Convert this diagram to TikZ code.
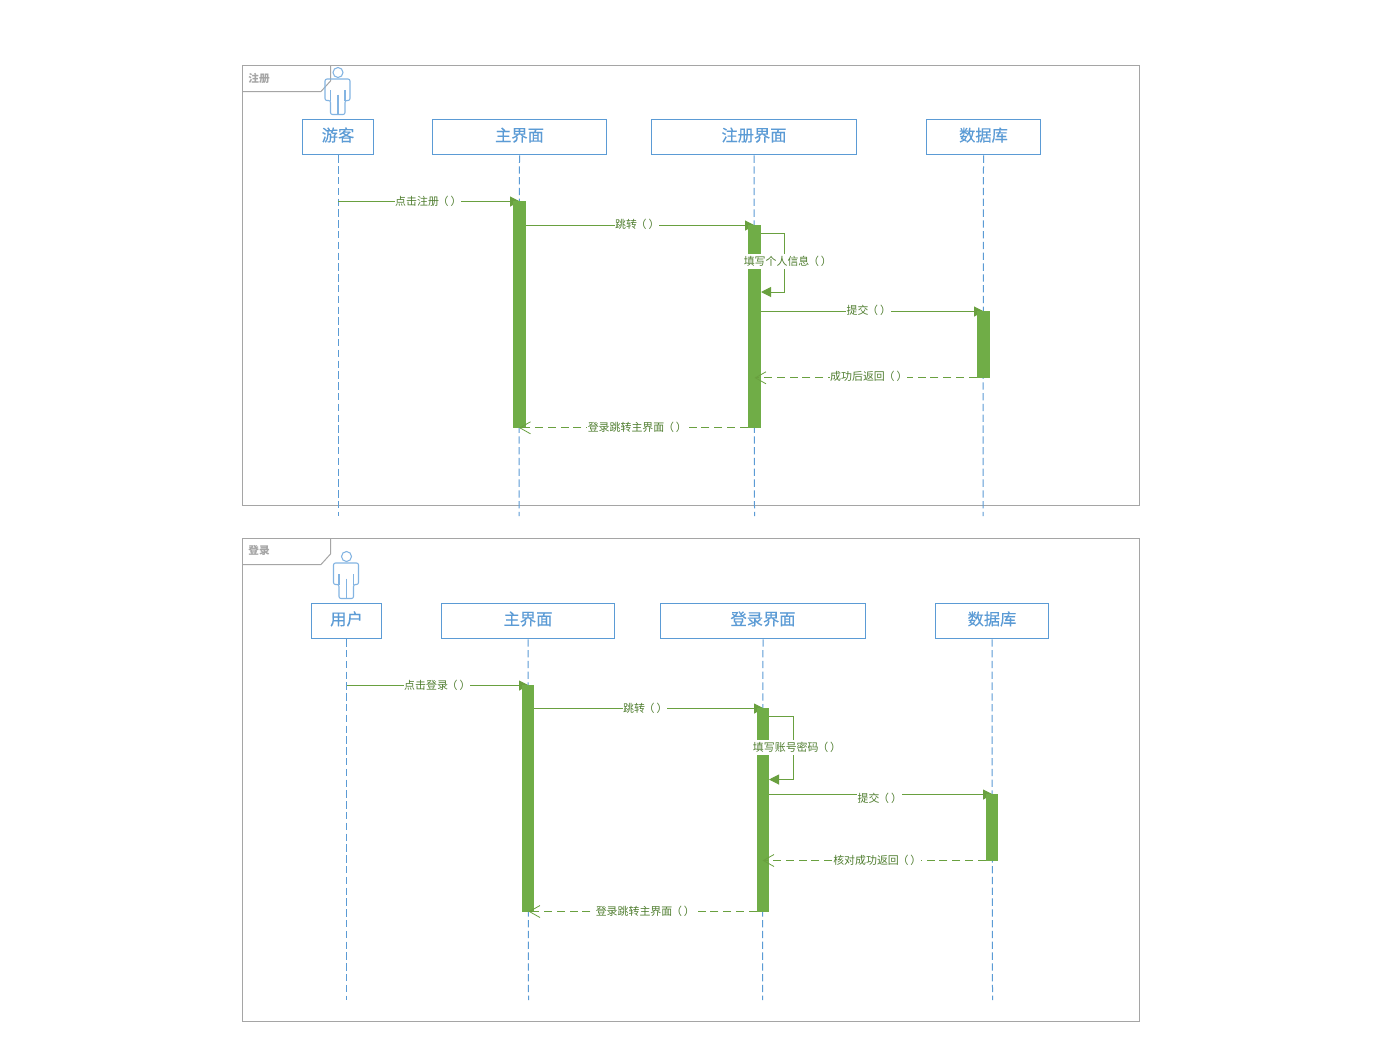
\documentclass[tikz,border=0pt]{standalone}
\usepackage{fontspec}
\setmainfont{Noto Sans CJK SC}
\newfontfamily\headfont[FakeBold=0.25]{Noto Sans CJK SC}
\usetikzlibrary{arrows.meta}
\definecolor{ublue}{HTML}{5B9BD5}
\definecolor{ulight}{HTML}{83B4E2}
\definecolor{ugreen}{HTML}{70AD47}
\definecolor{uline}{HTML}{69A03F}
\definecolor{utext}{HTML}{507E30}
\definecolor{ugray}{HTML}{A5A5A5}
\newcommand\hdtext[1]{\raisebox{0pt}[0.75em][0.25em]{#1}}
\newcommand\callmark{\kern-1pt（\kern1.5pt）\kern-0.5pt}
\tikzset{
  x=0.75pt,y=-0.75pt,
  frameline/.style={draw=ugray,line width=0.75pt},
  frametext/.style={text=ugray,font=\bfseries\fontsize{8}{8}\selectfont,inner sep=0pt},
  headbox/.style={draw=ublue,fill=white,line width=0.75pt,text=ublue,font=\headfont\fontsize{12.2}{12.2}\selectfont,inner sep=0pt,minimum height=35.5*0.75pt,minimum width=#1*0.75pt},
  lifeline/.style={draw=ublue,line width=0.75pt,dash pattern=on 5.5pt off 2.6pt},
  barbox/.style={fill=ugreen,draw=none,inner sep=0pt,minimum width=13*0.75pt},
  msgline/.style={draw=uline,line width=0.75pt,-{Triangle[length=7.5pt,width=7.5pt]}},
  retline/.style={draw=uline,line width=0.75pt,dash pattern=on 6pt off 3.6pt,-{Straight Barb[length=8pt,width=9pt,line width=0.6pt]}},
  msgtext/.style={text=utext,fill=white,font=\fontsize{8.2}{8.2}\selectfont,inner xsep=0.3pt,inner ysep=2pt},
  actorfig/.pic={
    \draw[ulight,line width=0.8pt] (0,0) circle[radius=5];
    \draw[ulight,line width=0.8pt,rounded corners=1.5pt] (-7.5,42) -- (-7.5,28) -- (-13,28) -- (-13,6.5) -- (12,6.5) -- (12,28) -- (7,28) -- (7,42) -- cycle;
    \draw[ulight,line width=0.8pt] (0,22) -- (0,42) (-7.5,28) -- (-7.5,17) (7,28) -- (7,17);
  }
}
\begin{document}
\begin{tikzpicture}
\path[use as bounding box,fill=white] (0,0) rectangle (1383,1053);

%% ---- register frame
\node[frameline,inner sep=0pt,minimum width=897*0.75pt,minimum height=439.7*0.75pt] (frameA) at (691,285.55) {};
\coordinate (tabAa) at (330.5,65.7);
\coordinate (tabAb) at (330.5,81);
\coordinate (tabAc) at (321,91.5);
\coordinate (tabAd) at (242.5,91.5);
\draw[frameline] (tabAa) -- (tabAb) -- (tabAc) -- (tabAd);
\node[frametext] (labelA) at (259,78) {注册};
\pic at (338,72.5) {actorfig};

\node[headbox=71]  (hA1) at (338,137.2) {\hdtext{游客}};
\node[headbox=174] (hA2) at (519.5,137.2) {\hdtext{主界面}};
\node[headbox=205] (hA3) at (754,137.2) {\hdtext{注册界面}};
\node[headbox=114] (hA4) at (983.5,137.2) {\hdtext{数据库}};
\coordinate (eA1) at (338,516);
\coordinate (eA2) at (519,516);
\coordinate (eA3) at (754.5,516);
\coordinate (eA4) at (983,516);
\draw[lifeline] (hA1.south) -- (eA1);
\draw[lifeline] (hA2.south) -- (eA2);
\draw[lifeline] (hA3.south) -- (eA3);
\draw[lifeline] (hA4.south) -- (eA4);

\coordinate (mA1s) at (338,201.5);
\coordinate (mA1e) at (520,201.5);
\coordinate (mA2s) at (526,225.5);
\coordinate (mA2e) at (755,225.5);
\coordinate (mA3s) at (754.5,311.5);
\coordinate (mA3e) at (984,311.5);
\draw[msgline] (mA1s) -- (mA1e);
\draw[msgline] (mA2s) -- (mA2e);
\draw[msgline] (mA3s) -- (mA3e);

\node[barbox,minimum height=227*0.75pt] (bA1) at (519.5,314.5) {};
\node[barbox,minimum height=203*0.75pt] (bA2) at (754.5,326.5) {};
\node[barbox,minimum height=67*0.75pt]  (bA3) at (983.5,344.5) {};

\coordinate (sA1) at (761,233);
\coordinate (sA2) at (784.5,233);
\coordinate (sA3) at (784.5,292);
\coordinate (sA4) at (761,292);
\draw[msgline] (sA1) -- (sA2) -- (sA3) -- (sA4);
\coordinate (rA1e) at (754.5,377.8);
\coordinate (rA2e) at (519,427.8);
\draw[retline] (bA3.west |- rA1e) -- (rA1e);
\draw[retline] (bA2.west |- rA2e) -- (rA2e);

\node[msgtext] (tA1) at (428,201) {点击注册\callmark};
\node[msgtext] (tA2) at (637,224.5) {跳转\callmark};
\node[msgtext] (tA3) at (787.5,261.5) {填写个人信息\callmark};
\node[msgtext] (tA4) at (868.5,310.5) {提交\callmark};
\node[msgtext] (tA5) at (868.5,376.5) {成功后返回\callmark};
\node[msgtext] (tA6) at (637,427) {登录跳转主界面\callmark};

%% ---- login frame
\node[frameline,inner sep=0pt,minimum width=897*0.75pt,minimum height=482.7*0.75pt] (frameB) at (691,780.05) {};
\coordinate (tabBa) at (330.5,538.7);
\coordinate (tabBb) at (330.5,554);
\coordinate (tabBc) at (321,564.5);
\coordinate (tabBd) at (242.5,564.5);
\draw[frameline] (tabBa) -- (tabBb) -- (tabBc) -- (tabBd);
\node[frametext] (labelB) at (259,550) {登录};
\pic at (346.5,556.5) {actorfig};

\node[headbox=70]  (hB1) at (346.5,621) {\hdtext{用户}};
\node[headbox=173] (hB2) at (528,621) {\hdtext{主界面}};
\node[headbox=205] (hB3) at (763,621) {\hdtext{登录界面}};
\node[headbox=113] (hB4) at (992,621) {\hdtext{数据库}};
\coordinate (eB1) at (346.5,1000);
\coordinate (eB2) at (528.5,1000);
\coordinate (eB3) at (762.5,1000);
\coordinate (eB4) at (992.5,1000);
\draw[lifeline] (hB1.south) -- (eB1);
\draw[lifeline] (hB2.south) -- (eB2);
\draw[lifeline] (hB3.south) -- (eB3);
\draw[lifeline] (hB4.south) -- (eB4);

\coordinate (mB1s) at (346.5,685.5);
\coordinate (mB1e) at (529,685.5);
\coordinate (mB2s) at (534,708.5);
\coordinate (mB2e) at (764,708.5);
\coordinate (mB3s) at (762.5,794.5);
\coordinate (mB3e) at (993,794.5);
\draw[msgline] (mB1s) -- (mB1e);
\draw[msgline] (mB2s) -- (mB2e);
\draw[msgline] (mB3s) -- (mB3e);

\node[barbox,minimum width=12*0.75pt,minimum height=227*0.75pt] (bB1) at (528,798.5) {};
\node[barbox,minimum width=12*0.75pt,minimum height=204*0.75pt] (bB2) at (763,810) {};
\node[barbox,minimum width=12*0.75pt,minimum height=67*0.75pt]  (bB3) at (992,827.5) {};

\coordinate (sB1) at (769,716.5);
\coordinate (sB2) at (793.5,716.5);
\coordinate (sB3) at (793.5,779.5);
\coordinate (sB4) at (769,779.5);
\draw[msgline] (sB1) -- (sB2) -- (sB3) -- (sB4);
\coordinate (rB1e) at (762.5,860.5);
\coordinate (rB2e) at (528.5,911.5);
\draw[retline] (bB3.west |- rB1e) -- (rB1e);
\draw[retline] (bB2.west |- rB2e) -- (rB2e);

\node[msgtext] (tB1) at (437,685.5) {点击登录\callmark};
\node[msgtext] (tB2) at (645,708) {跳转\callmark};
\node[msgtext] (tB3) at (796.7,747.5) {填写账号密码\callmark};
\node[msgtext] (tB4) at (879.5,798.5) {提交\callmark};
\node[msgtext] (tB5) at (877,860.5) {核对成功返回\callmark};
\node[msgtext] (tB6) at (645,911) {登录跳转主界面\callmark};
\end{tikzpicture}
\end{document}
